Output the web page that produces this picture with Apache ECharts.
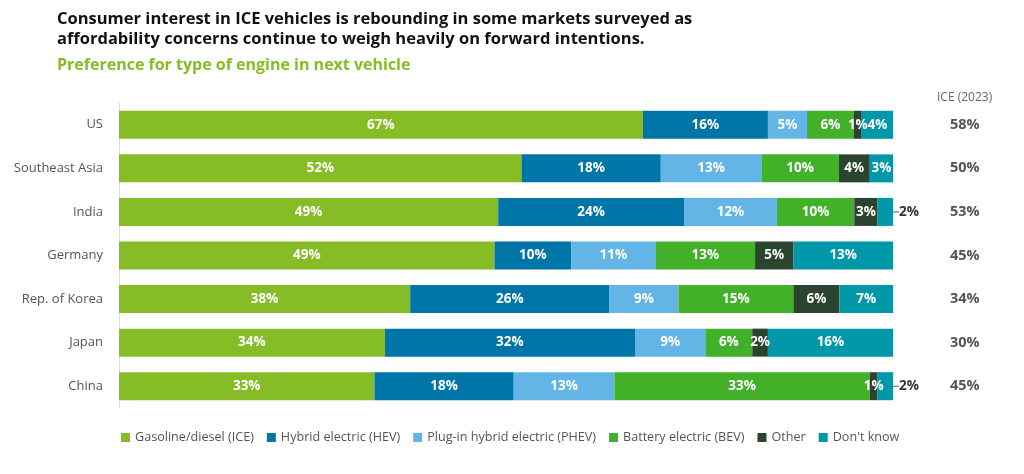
<!DOCTYPE html>
<html>
<head>
<meta charset="utf-8">
<script src="https://cdn.jsdelivr.net/npm/echarts@6/dist/echarts.min.js"></script>
<style>
  html, body { margin: 0; padding: 0; background: #fff; }
  #chart { width: 1024px; height: 474px; }
</style>
</head>
<body>
<div id="chart"></div>
<script>
const countries = ['US', 'Southeast Asia', 'India', 'Germany', 'Rep. of Korea', 'Japan', 'China'];
const ice = [67, 52, 49, 49, 38, 34, 33];
const hev = [16, 18, 24, 10, 26, 32, 18];
const phev = [5, 13, 12, 11, 9, 9, 13];
const bev = [6, 10, 10, 13, 15, 6, 33];
const other = [1, 4, 3, 5, 6, 2, 1];
const dontKnow = [4, 3, 2, 13, 7, 16, 2];
const ice2023 = ['58%', '50%', '53%', '45%', '34%', '30%', '45%'];

const seriesDefs = [
  { name: 'Gasoline/diesel (ICE)', values: ice, color: '#86BC25' },
  { name: 'Hybrid electric (HEV)', values: hev, color: '#0076A8' },
  { name: 'Plug-in hybrid electric (PHEV)', values: phev, color: '#62B5E5' },
  { name: 'Battery electric (BEV)', values: bev, color: '#43B02A' },
  { name: 'Other', values: other, color: '#2A4430' },
  { name: "Don't know", values: dontKnow, color: '#0097A9' }
];

// each bar is drawn full width, so scale by the row total
const totals = countries.map((c, i) => seriesDefs.reduce((s, d) => s + d.values[i], 0));

const font = '"Open Sans", "Noto Sans", sans-serif';

const series = seriesDefs.map((d, si) => ({
  name: d.name,
  type: 'bar',
  stack: 'all',
  barWidth: 28,
  itemStyle: { color: d.color },
  label: {
    show: true,
    color: '#fff',
    fontWeight: 'bold',
    fontSize: 13.5,
    fontFamily: font,
    formatter: p => d.values[p.dataIndex] + '%'
  },
  data: d.values.map((v, i) => {
    const item = { value: v / totals[i] * 100 };
    // small last segments get an outside label with a short leader
    if (si === seriesDefs.length - 1 && v <= 2) {
      item.label = {
        position: 'right',
        distance: 0,
        formatter: '{ln|}{t|' + v + '%}',
        rich: {
          ln: { width: 6, height: 1, backgroundColor: '#555' },
          t: { color: '#333', fontWeight: 'bold', fontSize: 13.5, fontFamily: font }
        }
      };
    }
    return item;
  })
}));

const chart = echarts.init(document.getElementById('chart'));
chart.setOption({
  animation: false,
  textStyle: { fontFamily: font },
  title: [
    {
      text: 'Consumer interest in ICE vehicles is rebounding in some markets surveyed as\naffordability concerns continue to weigh heavily on forward intentions.',
      left: 52, top: 4,
      textStyle: { fontSize: 16.5, fontWeight: 'bold', color: '#111', lineHeight: 20, fontFamily: font }
    },
    {
      text: 'Preference for type of engine in next vehicle',
      left: 52, top: 52,
      textStyle: { fontSize: 16, fontWeight: 'bold', color: '#86BC25', fontFamily: font }
    },
    {
      text: 'ICE (2023)',
      left: 932, top: 87,
      textStyle: { fontSize: 12, fontWeight: 'normal', color: '#666', fontFamily: font }
    }
  ],
  legend: {
    left: 116, top: 426,
    icon: 'rect',
    itemWidth: 9, itemHeight: 9,
    itemGap: 13,
    textStyle: { color: '#555', fontSize: 12.6, fontFamily: font }
  },
  grid: { left: 119, right: 131, top: 103, bottom: 66 },
  xAxis: { type: 'value', min: 0, max: 100, show: false },
  yAxis: [
    {
      type: 'category',
      data: countries,
      inverse: true,
      axisTick: { show: false },
      axisLine: { show: true, lineStyle: { color: '#ddd' } },
      axisLabel: { color: '#555', fontSize: 13, margin: 16, fontFamily: font }
    },
    {
      type: 'category',
      data: ice2023,
      inverse: true,
      position: 'right',
      axisTick: { show: false },
      axisLine: { show: false },
      axisLabel: { color: '#555', fontSize: 14.5, fontWeight: 'bold', margin: 57, fontFamily: font }
    }
  ],
  series: series
});
</script>
</body>
</html>
